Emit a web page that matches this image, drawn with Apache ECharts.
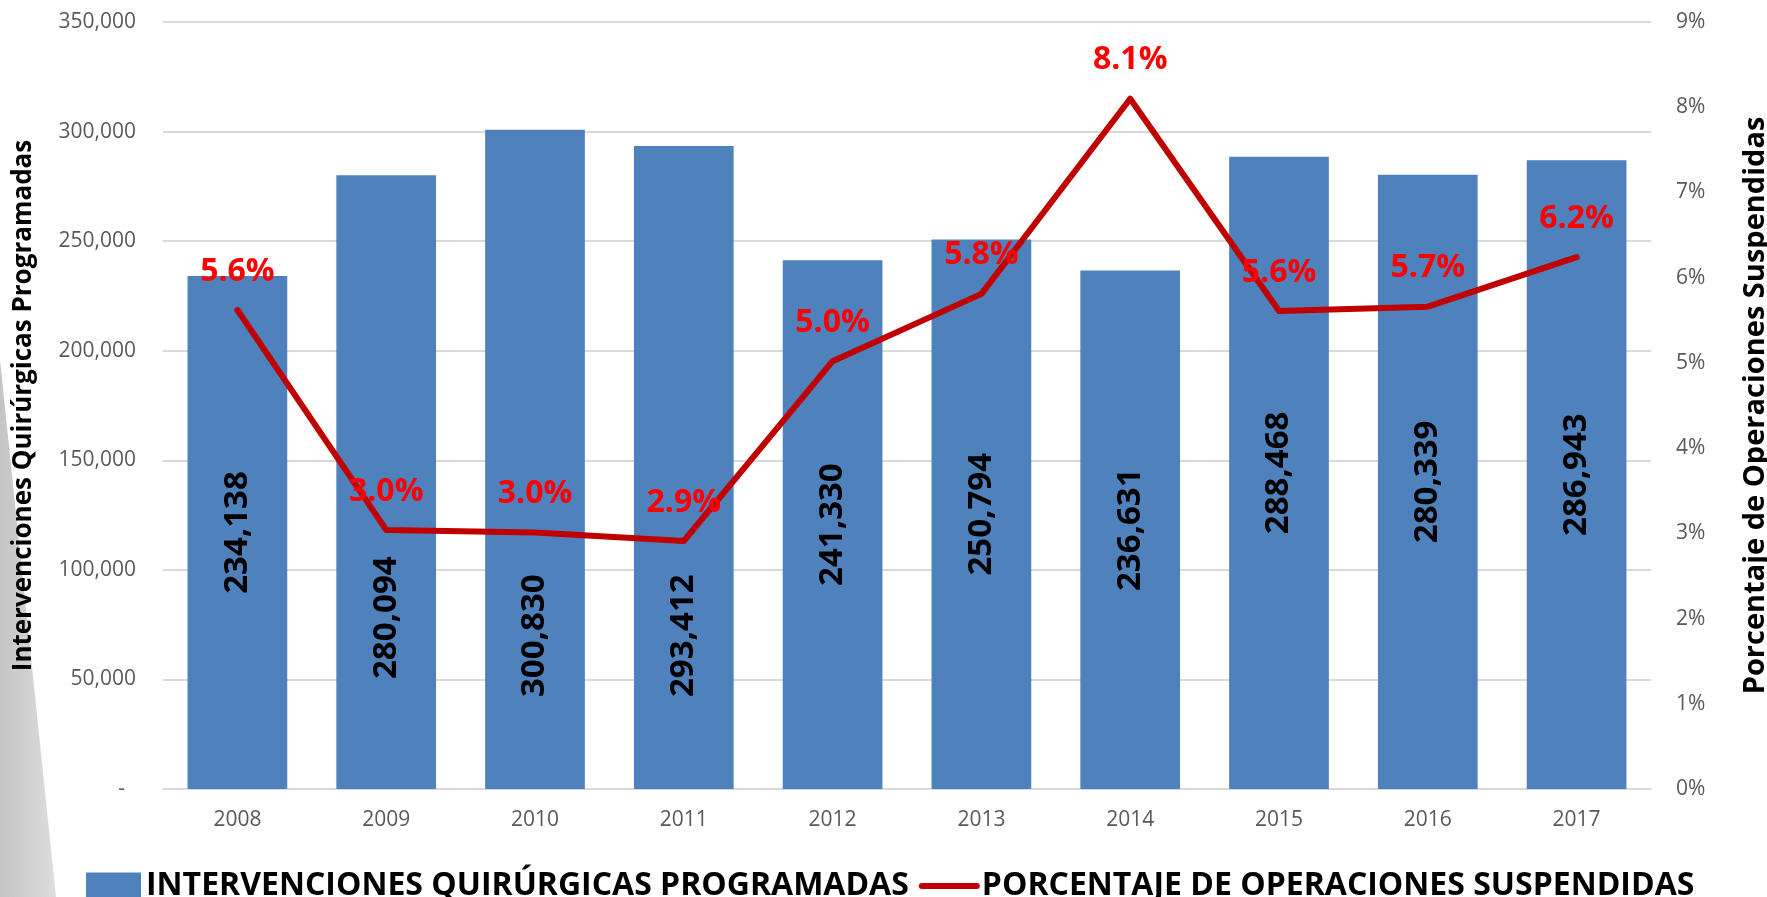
<!DOCTYPE html>
<html>
<head>
<meta charset="utf-8">
<title>Intervenciones quirúrgicas programadas</title>
<script src="https://cdn.jsdelivr.net/npm/echarts@6/dist/echarts.min.js"></script>
<style>
    html, body { margin: 0; padding: 0; background: #fff; }
    #chart { width: 1767px; height: 897px; }
</style>
</head>
<body>
<div id="chart"></div>
<script>
// datos
const years = ['2008', '2009', '2010', '2011', '2012', '2013', '2014', '2015', '2016', '2017'];
const intervenciones = [234138, 280094, 300830, 293412, 241330, 250794, 236631, 288468, 280339, 286943];
const suspendidas = [5.62, 3.04, 3.01, 2.91, 5.02, 5.81, 8.10, 5.61, 5.66, 6.24]; // %

const barName = 'INTERVENCIONES QUIRÚRGICAS PROGRAMADAS';
const lineName = 'PORCENTAJE DE OPERACIONES SUSPENDIDAS';

// etiquetas de barra que en el original se bajaron a mano
const lowLabelGap = {'2009': 110, '2010': 92, '2011': 92};

const font = '"Open Sans", "Noto Sans", sans-serif';

const chart = echarts.init(document.getElementById('chart'));

const barData = intervenciones.map((v, i) => {
    const gap = lowLabelGap[years[i]];
    if (gap === undefined) return v;
    return {
        value: v,
        label: {position: 'insideBottom', distance: gap, align: 'left', verticalAlign: 'middle'}
    };
});

const option = {
    backgroundColor: '#fff',
    animation: false,
    textStyle: {fontFamily: font},
    graphic: [{
        type: 'polygon',
        silent: true,
        z: -10,
        shape: {points: [[0, 360], [56, 897], [0, 897]]},
        style: {
            fill: new echarts.graphic.LinearGradient(0, 0, 1, 0, [
                {offset: 0, color: '#c4c4c4'},
                {offset: 1, color: '#dedede'}
            ])
        }
    }],
    grid: {left: 163, right: 116, top: 22, bottom: 108, outerBoundsMode: 'none'},
    legend: {
        left: 81,
        top: 865,
        itemWidth: 55,
        itemHeight: 27,
        itemGap: 10,
        textStyle: {fontFamily: font, fontSize: 32, fontWeight: 'bold', color: '#000'},
        data: [
            {name: barName, icon: 'rect'},
            {name: lineName, itemStyle: {opacity: 0}, lineStyle: {width: 6, cap: 'round'}}
        ]
    },
    xAxis: {
        type: 'category',
        data: years,
        axisLine: {lineStyle: {color: '#d9d9d9', width: 2}},
        axisTick: {show: false},
        axisLabel: {color: '#595959', fontSize: 21, margin: 21, fontFamily: font}
    },
    yAxis: [{
        type: 'value',
        min: 0,
        max: 350000,
        interval: 50000,
        name: 'Intervenciones Quirúrgicas Programadas',
        nameLocation: 'middle',
        nameRotate: 90,
        nameGap: 126,
        nameTextStyle: {fontFamily: font, fontSize: 26, fontWeight: 'bold', color: '#000'},
        axisLine: {show: false},
        axisTick: {show: false},
        splitLine: {lineStyle: {color: '#d9d9d9', width: 2}},
        axisLabel: {
            color: '#595959', fontSize: 21, margin: 27, fontFamily: font,
            formatter: v => v === 0 ? '-  ' : v.toLocaleString('en-US')
        }
    }, {
        type: 'value',
        min: 0,
        max: 9,
        interval: 1,
        name: 'Porcentaje de Operaciones Suspendidas',
        nameLocation: 'middle',
        nameRotate: 90,
        nameGap: 90,
        nameTextStyle: {fontFamily: font, fontSize: 29, fontWeight: 'bold', color: '#000'},
        axisLine: {show: false},
        axisTick: {show: false},
        splitLine: {show: false},
        axisLabel: {color: '#595959', fontSize: 21, margin: 25, fontFamily: font, formatter: '{value}%'}
    }],
    series: [{
        name: barName,
        type: 'bar',
        data: barData,
        barCategoryGap: '33%',
        itemStyle: {color: '#4f81bd'},
        label: {
            show: true,
            position: 'inside',
            rotate: 90,
            align: 'center',
            verticalAlign: 'middle',
            color: '#000',
            fontFamily: font,
            fontSize: 33,
            fontWeight: 'bold',
            formatter: p => p.value.toLocaleString('en-US')
        }
    }, {
        name: lineName,
        type: 'line',
        yAxisIndex: 1,
        data: suspendidas,
        symbol: 'circle',
        symbolSize: 1,
        itemStyle: {color: 'rgba(0,0,0,0)'},
        lineStyle: {color: '#c00000', width: 6, cap: 'round', join: 'round'},
        z: 5,
        label: {
            show: true,
            position: 'top',
            distance: 22,
            color: '#ff0000',
            fontFamily: font,
            fontSize: 32,
            fontWeight: 'bold',
            formatter: p => p.value.toFixed(1) + '%'
        }
    }]
};

chart.setOption(option);
</script>
</body>
</html>
